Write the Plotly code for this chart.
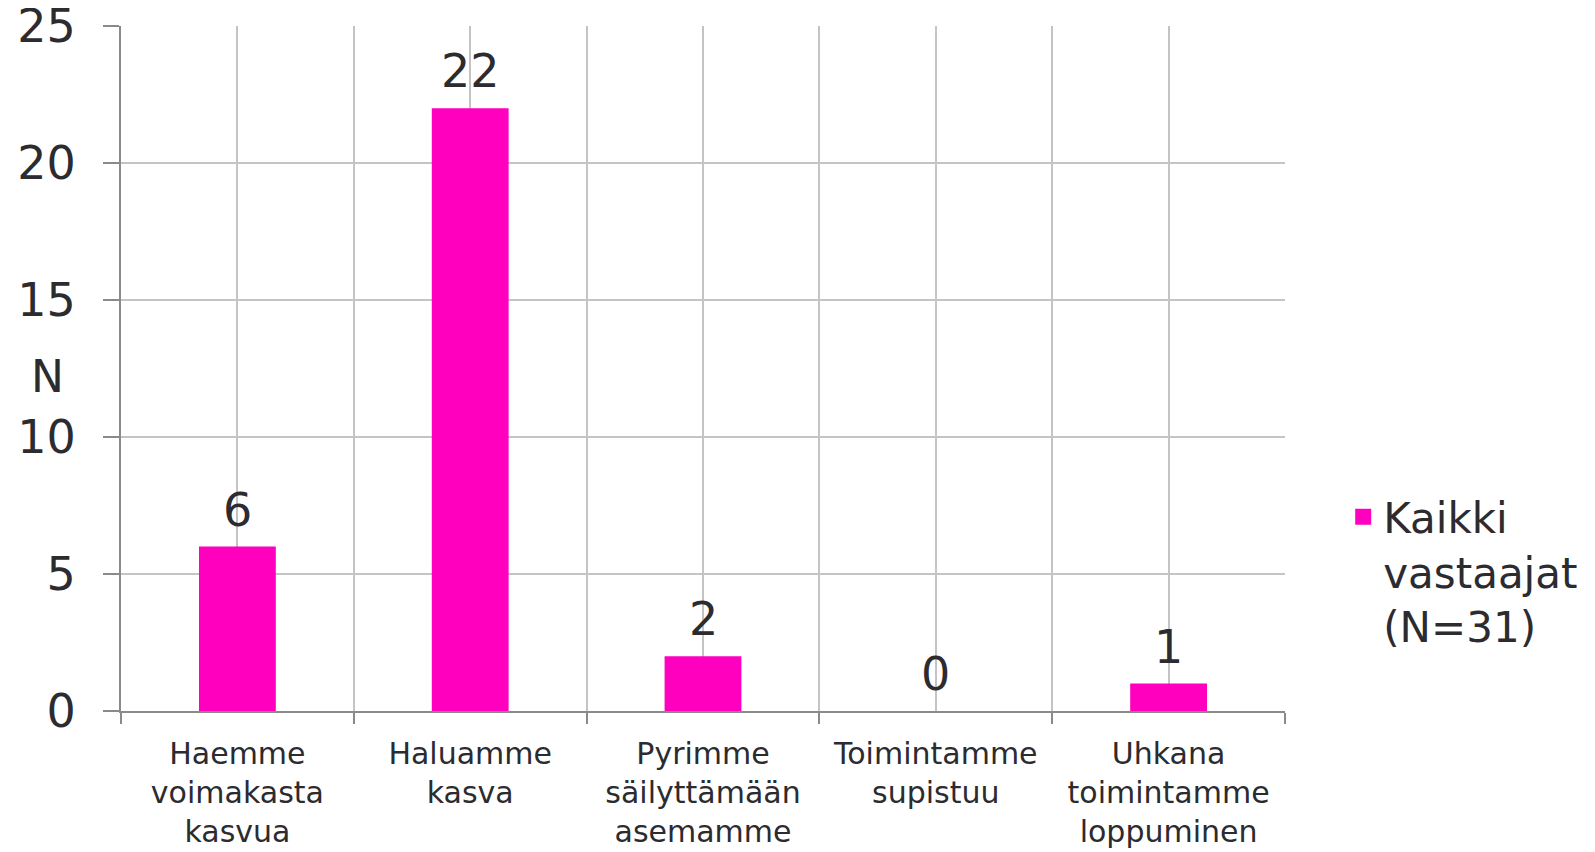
import plotly.graph_objects as go

# Survey answers: expected development of the company's operations.
CATEGORIES = [
    "Haemme<br>voimakasta<br>kasvua",
    "Haluamme<br>kasva",
    "Pyrimme<br>säilyttämään<br>asemamme",
    "Toimintamme<br>supistuu",
    "Uhkana<br>toimintamme<br>loppuminen",
]
COUNTS = [6, 22, 2, 0, 1]
SERIES_NAME = "Kaikki<br>vastaajat<br>(N=31)"
Y_TICKS = [0, 5, 10, 15, 20, 25]

PINK = "#FF00BE"
TEXT = "#2b2b30"
GRID = "#c4c4c4"
AXIS = "#8a8a8a"
FONT = "DejaVu Sans"

positions = list(range(len(CATEGORIES)))
boundaries = [p - 0.5 for p in positions] + [positions[-1] + 0.5]

fig = go.Figure()
fig.add_trace(
    go.Bar(
        x=positions,
        y=COUNTS,
        width=0.33,
        marker=dict(color=PINK, line=dict(width=0)),
        showlegend=False,
        hoverinfo="skip",
    )
)
# Legend entry (bar legend symbols are tiny, so use a square marker).
fig.add_trace(
    go.Scatter(
        x=[None],
        y=[None],
        mode="markers",
        marker=dict(symbol="square", size=16, color=PINK),
        name=SERIES_NAME,
    )
)

# Value labels above the bars.
for p, v in zip(positions, COUNTS):
    fig.add_annotation(
        x=p, y=v, text=str(v), showarrow=False,
        yanchor="bottom", yshift=8,
        font=dict(size=46, color=TEXT, family=FONT),
    )

# Horizontal "N" axis title.
fig.add_annotation(
    xref="paper", yref="paper", x=-0.063, y=0.488, text="N",
    showarrow=False, xanchor="center", yanchor="middle",
    font=dict(size=44, color=TEXT, family=FONT),
)

# The page body adds an 8px offset, so the figure is a little smaller
# than the window and the margins are shifted to compensate.
fig.update_layout(
    width=1587,
    height=844,
    margin=dict(l=113, r=310, t=18, b=141, autoexpand=False),
    plot_bgcolor="white",
    paper_bgcolor="white",
    font=dict(family=FONT, color=TEXT),
    showlegend=True,
    legend=dict(
        x=1.050, y=0.333, xanchor="left", yanchor="top",
        valign="top",
        font=dict(size=42, color=TEXT, family=FONT),
        bgcolor="rgba(0,0,0,0)",
    ),
    xaxis=dict(
        range=[boundaries[0], boundaries[-1]],
        automargin=False,
        tickmode="array",
        tickvals=positions,
        ticktext=CATEGORIES,
        ticks="",
        showgrid=True,
        gridcolor=GRID,
        gridwidth=2,
        showline=True,
        linecolor=AXIS,
        linewidth=2,
        zeroline=False,
        tickfont=dict(size=30, color=TEXT, family=FONT),
        ticklabelstandoff=15,
        ticklabeloverflow="allow",
        minor=dict(
            tickmode="array",
            tickvals=boundaries,
            ticks="outside",
            ticklen=11,
            tickcolor=AXIS,
            tickwidth=2,
            showgrid=True,
            gridcolor=GRID,
            gridwidth=2,
        ),
    ),
    yaxis=dict(
        range=[0, 25],
        automargin=False,
        tickmode="array",
        tickvals=Y_TICKS,
        ticks="outside",
        ticklen=16,
        tickcolor=AXIS,
        tickwidth=2,
        showgrid=True,
        gridcolor=GRID,
        gridwidth=2,
        showline=True,
        linecolor=AXIS,
        linewidth=2,
        zeroline=False,
        tickfont=dict(size=46, color=TEXT, family=FONT),
        ticklabelstandoff=18,
        ticklabeloverflow="allow",
    ),
)

fig.write_html("out.html")
